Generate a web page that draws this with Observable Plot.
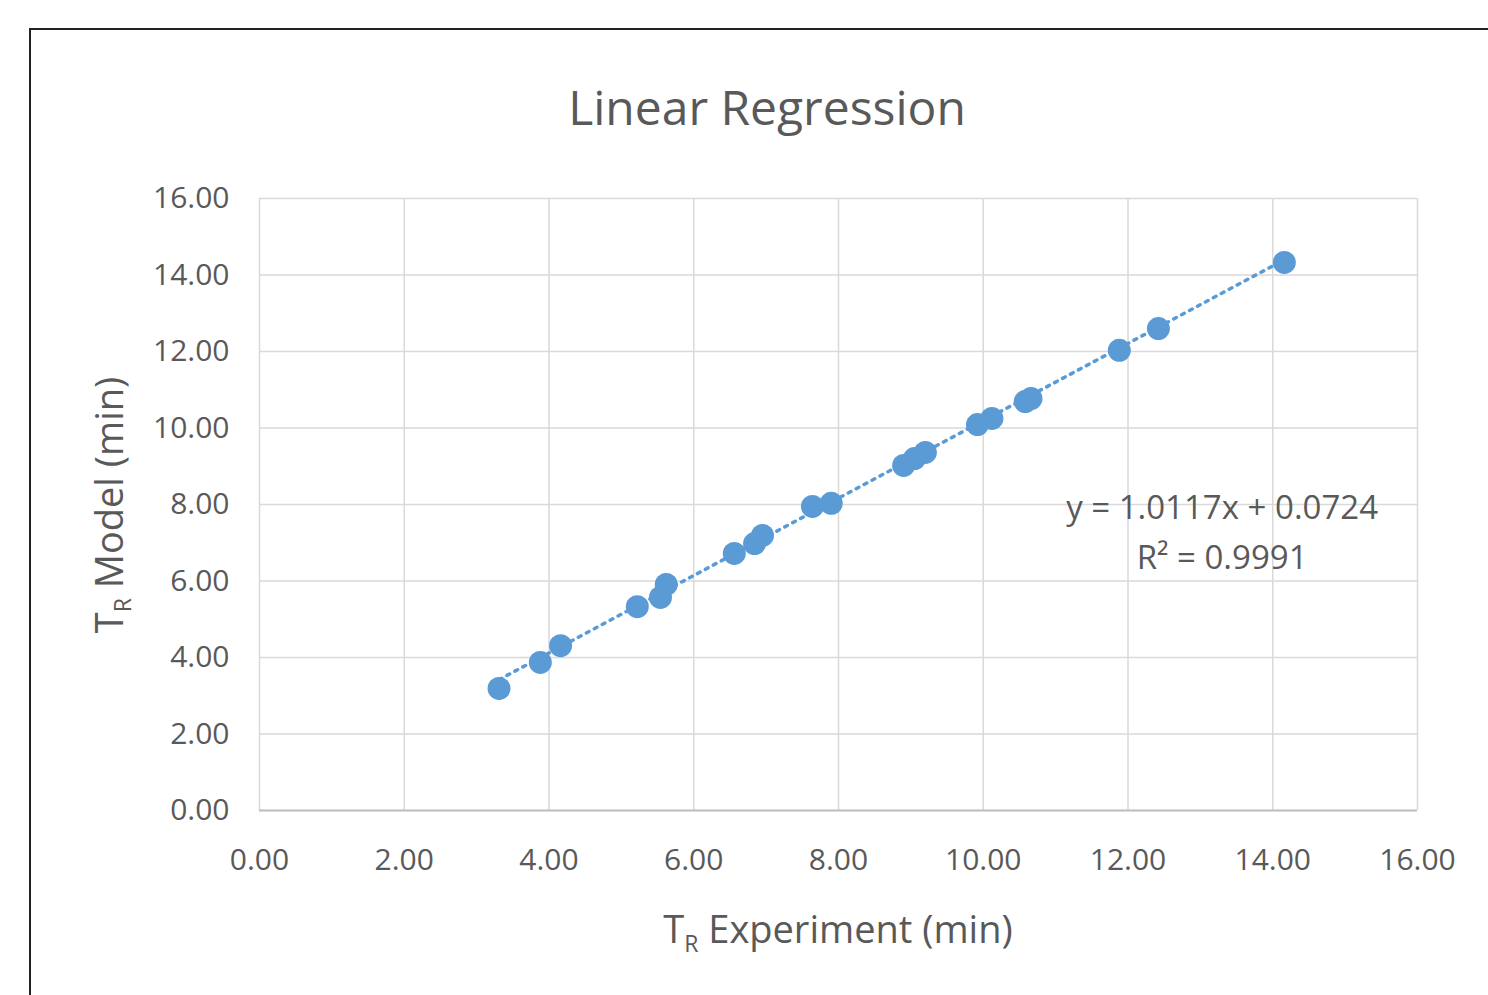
<!DOCTYPE html>
<html><head><meta charset="utf-8">
<script src="https://cdn.jsdelivr.net/npm/d3@7"></script>
<script src="https://cdn.jsdelivr.net/npm/@observablehq/plot@0.6"></script>
<style>
body{margin:0;background:#fff;font-family:"Liberation Sans Narrow","Open Sans",sans-serif;}
#frame{position:absolute;left:29px;top:28px;width:1480px;height:990px;border:2px solid #222;box-sizing:border-box;}
.lbl{position:absolute;color:#595959;font-size:38px;white-space:nowrap;}
.lbl sub{font-size:23px;}
#chart{position:absolute;left:0;top:0;}
</style></head>
<body>
<div id="frame"></div>
<div id="chart"></div>
<div class="lbl" style="left:767px;top:74px;transform:translateX(-50%);font-size:48px;">Linear Regression</div>
<div class="lbl" style="left:838px;top:902px;transform:translateX(-50%);">T<sub>R</sub> Experiment (min)</div>
<div class="lbl" style="left:110px;top:505px;transform:translate(-50%,-50%) rotate(-90deg);">T<sub>R</sub> Model (min)</div>
<script>
const experiment = [3.31, 3.88, 4.16, 5.22, 5.54, 5.62, 6.56, 6.84, 6.95, 7.64, 7.90, 8.90, 9.05, 9.20, 9.92, 10.12, 10.58, 10.66, 11.88, 12.42, 14.16];
const model = [3.19, 3.87, 4.31, 5.33, 5.57, 5.91, 6.72, 6.98, 7.19, 7.95, 8.03, 9.02, 9.20, 9.36, 10.09, 10.25, 10.69, 10.77, 12.03, 12.60, 14.33];
const slope = 1.0117, intercept = 0.0724;
const ticks = d3.range(0, 17, 2);

const pts = experiment.map((x, i) => ({x, y: model[i]}));
const [xMin, xMax] = d3.extent(experiment);

const plot = Plot.plot({
  width: 1488, height: 995,
  marginLeft: 259, marginRight: 71, marginTop: 198, marginBottom: 185,
  style: {fontFamily: "Liberation Sans Narrow, Open Sans, sans-serif", fontSize: "30px", color: "#595959", background: "transparent"},
  x: {domain: [0, 16], ticks, tickFormat: d3.format(".2f"), label: null},
  y: {domain: [0, 16], ticks, tickFormat: d3.format(".2f"), label: null},
  marks: [
    Plot.gridX(ticks, {stroke: "#d9d9d9", strokeOpacity: 1, strokeWidth: 1.5}),
    Plot.gridY(ticks, {stroke: "#d9d9d9", strokeOpacity: 1, strokeWidth: 1.5}),
    Plot.axisX({ticks, tickSize: 0, tickPadding: 38, tickFormat: d3.format(".2f"), fill: "#595959"}),
    Plot.axisY({ticks, tickSize: 0, tickPadding: 30, tickFormat: d3.format(".2f"), fill: "#595959"}),
    Plot.ruleY([0], {stroke: "#bfbfbf", strokeWidth: 2}),
    Plot.line([[xMin, slope * xMin + intercept], [xMax, slope * xMax + intercept]],
      {stroke: "#5b9bd5", strokeWidth: 3.5, strokeDasharray: "3,6", strokeLinecap: "round"}),
    Plot.dot(pts, {x: "x", y: "y", r: 11.5, fill: "#5b9bd5"}),
    Plot.text([`y = ${slope}x + ${intercept}`, "R² = 0.9991"], {
      x: 13.3, y: (d, i) => 7.9 - i * 1.3, text: d => d, fontSize: 33, fill: "#595959", textAnchor: "middle"
    })
  ]
});
document.querySelector("#chart").append(plot);
</script>
</body></html>
